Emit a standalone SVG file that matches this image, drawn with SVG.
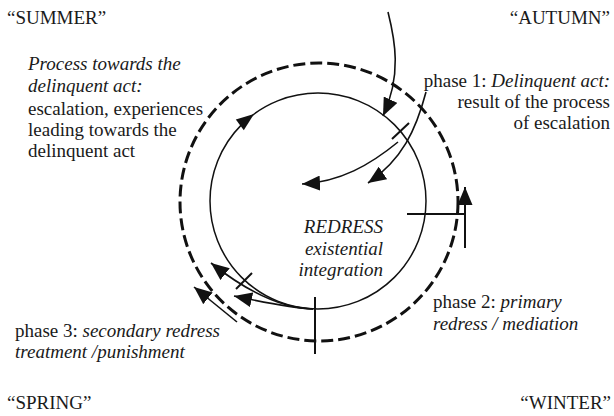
<svg xmlns="http://www.w3.org/2000/svg" width="614" height="416" viewBox="0 0 614 416">
<style>
text{font-family:"Liberation Serif","Times New Roman",serif;font-size:19px;fill:#1a1a1a}
.i{font-style:italic}
.e{text-anchor:end}
.ln{fill:none;stroke:#111;stroke-width:1.6}
.tk{fill:none;stroke:#111;stroke-width:2}
</style>
<defs>
<marker id="ah" markerUnits="userSpaceOnUse" markerWidth="19" markerHeight="15" refX="18" refY="7.5" orient="auto">
<path d="M0,0 L18,7.5 L0,15 z" fill="#111"/>
</marker>
</defs>
<rect width="614" height="416" fill="#fff"/>
<g id="seasons">
<text x="7" y="24">“SUMMER”</text>
<text x="610" y="24" class="e">“AUTUMN”</text>
<text x="7" y="409">“SPRING”</text>
<text x="611" y="409" class="e">“WINTER”</text>
</g>
<g id="outer-cycle">
<circle cx="319" cy="202" r="139" fill="none" stroke="#111" stroke-width="3" stroke-dasharray="12 5"/>
</g>
<g id="inner-cycle">
<circle cx="318" cy="201" r="108" fill="none" stroke="#111" stroke-width="1.5"/>
<polygon points="254,114 243.8,130.2 235.8,119.4" fill="#111"/>
</g>
<g id="redress">
<text x="383" y="233" class="e i">REDRESS</text>
<text x="383" y="255" class="e i">existential</text>
<text x="383" y="276" class="e i">integration</text>
</g>
<g id="process">
<text x="28" y="70" class="i">Process towards the</text>
<text x="28" y="92" class="i">delinquent act:</text>
<text x="28" y="115">escalation, experiences</text>
<text x="28" y="136">leading towards the</text>
<text x="28" y="157">delinquent act</text>
</g>
<g id="phase1">
<text x="610" y="87" class="e">phase 1: <tspan class="i">Delinquent act:</tspan></text>
<text x="610" y="108" class="e">result of the process</text>
<text x="610" y="129" class="e">of escalation</text>
</g>
<g id="phase2">
<text x="433" y="308">phase 2: <tspan class="i">primary</tspan></text>
<text x="433" y="330" class="i">redress / mediation</text>
</g>
<g id="phase3">
<text x="15" y="337">phase 3: <tspan class="i">secondary redress</tspan></text>
<text x="15" y="358" class="i">treatment /punishment</text>
</g>
<g id="connectors">
<path class="ln" d="M388,12 C395,40 402,75 383,116" marker-end="url(#ah)"/>
<path class="ln" d="M426,92 C416,130 402,160 368,183" marker-end="url(#ah)"/>
<path class="ln" d="M398,142 C370,165 340,182 302,184" marker-end="url(#ah)"/>
<line class="tk" x1="392" y1="139" x2="409" y2="123"/>
<line class="tk" x1="465" y1="248" x2="465" y2="187" marker-end="url(#ah)"/>
<line class="tk" x1="407" y1="214" x2="465" y2="214" stroke-width="2.6"/>
<line class="tk" x1="315" y1="297" x2="315" y2="354"/>
<path class="ln" d="M313,309 C280,308 245,290 211,263" marker-end="url(#ah)"/>
<path class="ln" d="M313,309 C290,308 262,302 234,296" marker-end="url(#ah)"/>
<line class="tk" x1="236" y1="289" x2="252" y2="273"/>
<line class="ln" x1="237" y1="322" x2="194" y2="287" marker-end="url(#ah)"/>
</g>
</svg>
